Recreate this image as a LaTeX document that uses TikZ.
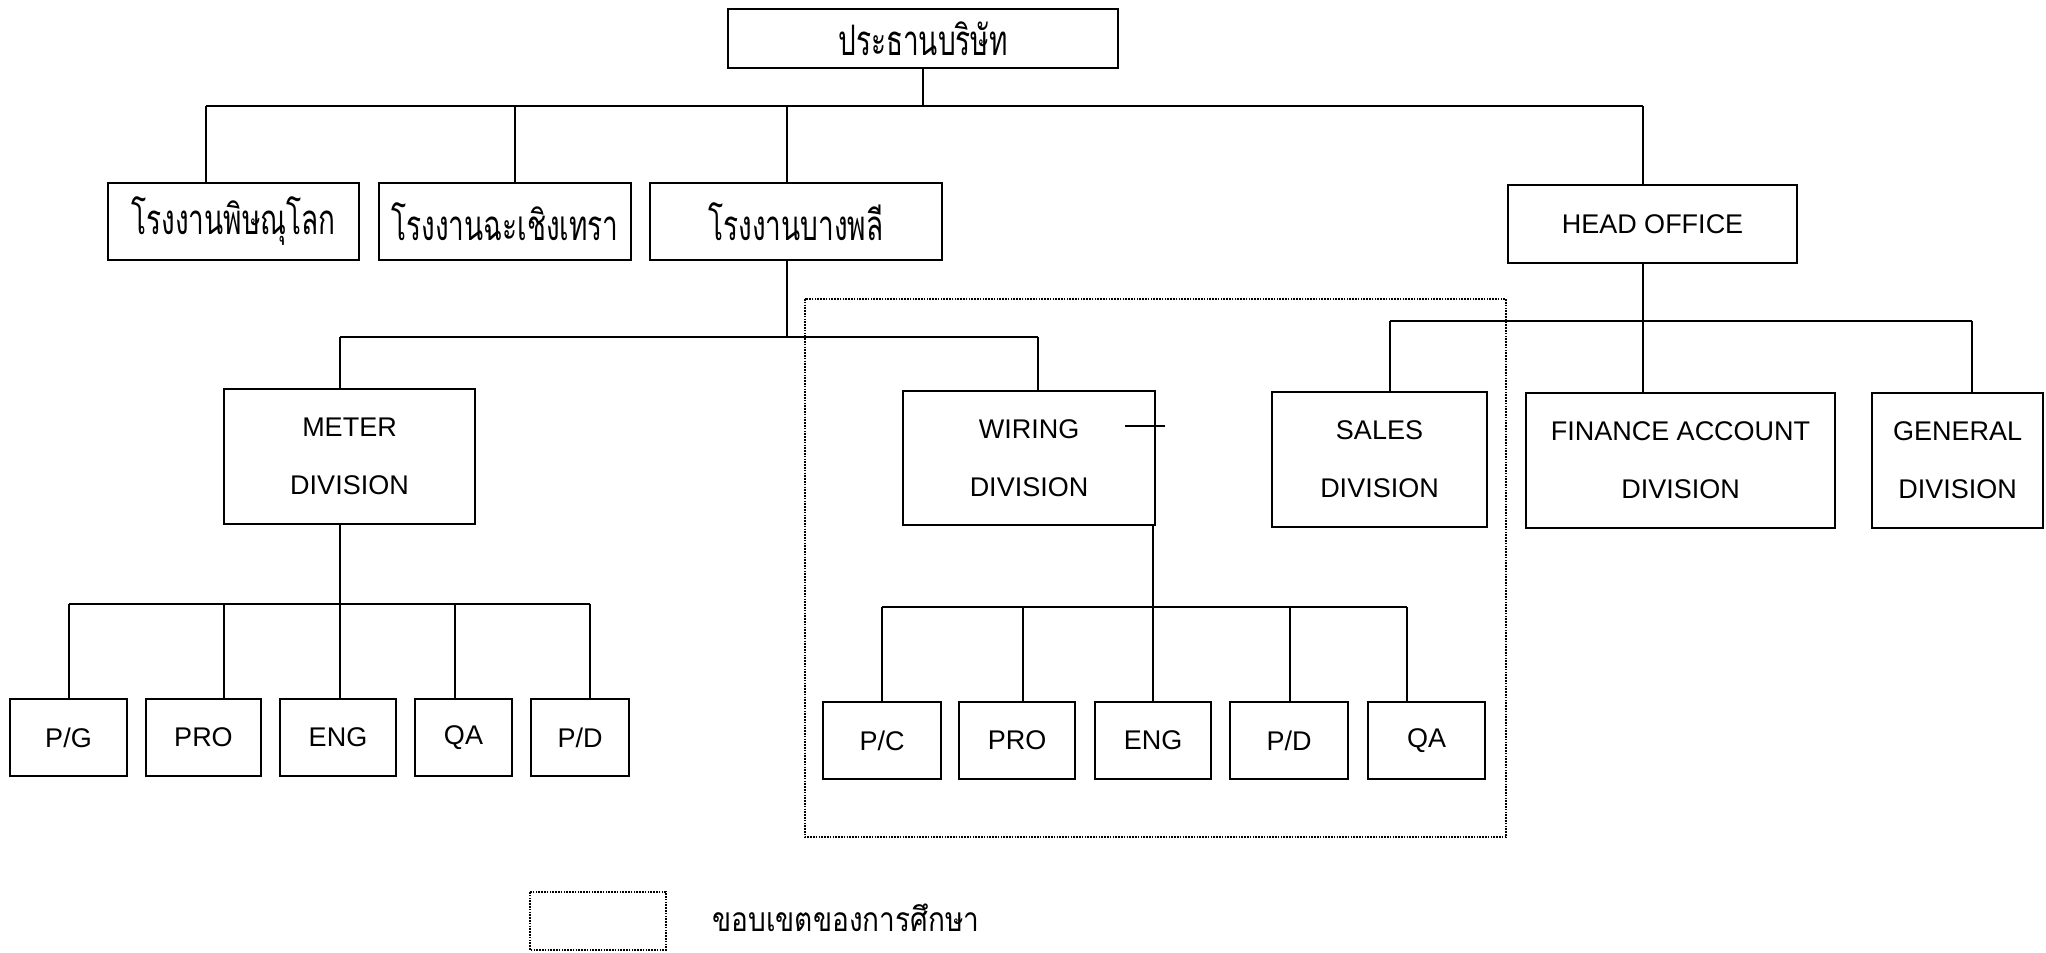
\documentclass[tikz,border=0pt]{standalone}
\usepackage{graphicx}
\usepackage{fontspec}
\setmainfont{Liberation Sans}
\newfontfamily\thaifont[Script=Thai]{Loma}
\newcommand{\thbox}[1]{\scalebox{1}[1.5]{#1}}
\newcommand{\thleg}[1]{\scalebox{1}[1.2]{#1}}
\begin{document}
\begin{tikzpicture}[x=0.5pt,y=-0.5pt,
  box/.style={draw, line width=1.3pt, inner sep=0pt, anchor=center,
    font=\fontsize{13.5}{29}\selectfont, align=center},
  tbox/.style={box, font=\thaifont\fontsize{14}{18}\selectfont},
  conn/.style={line width=0.9pt},
  scope/.style={line width=1pt, dash pattern=on 0.8pt off 0.6pt}]
\useasboundingbox (0,0) rectangle (2046,953);

% level 1
\node[tbox, minimum width=195pt, minimum height=29.5pt] (top) at (923,38.5) {\thbox{ประธานบริษัท}};
% level 2
\node[tbox, minimum width=125.5pt, minimum height=38.5pt] (b1) at (233.5,221.5) {\thbox{โรงงานพิษณุโลก}};
\node[tbox, minimum width=126pt, minimum height=38.5pt] (b2) at (505,221.5) {\thbox{โรงงานฉะเชิงเทรา}};
\node[tbox, minimum width=146pt, minimum height=38.5pt] (b3) at (796,221.5) {\thbox{โรงงานบางพลี}};
\node[box, minimum width=144.5pt, minimum height=39pt] (ho) at (1652.5,224) {HEAD OFFICE};
% level 3
\node[box, minimum width=125.5pt, minimum height=67.5pt] (meter) at (349.5,456.5) {METER\\DIVISION};
\node[box, minimum width=126pt, minimum height=67pt] (wiring) at (1029,458) {WIRING\\DIVISION};
\node[box, minimum width=107.5pt, minimum height=67.5pt] (sales) at (1379.5,459.5) {SALES\\DIVISION};
\node[box, minimum width=154.5pt, minimum height=67.5pt] (fin) at (1680.5,460.5) {FINANCE ACCOUNT\\DIVISION};
\node[box, minimum width=85.5pt, minimum height=67.5pt] (gen) at (1957.5,460.5) {GENERAL\\DIVISION};
% level 4 meter
\node[box, minimum width=58.5pt, minimum height=38.5pt] (mpg) at (68.5,737.5) {P/G};
\node[box, minimum width=57.5pt, minimum height=38.5pt] (mpro) at (203.5,737.5) {PRO};
\node[box, minimum width=58pt, minimum height=38.5pt] (meng) at (338,737.5) {ENG};
\node[box, minimum width=48.5pt, minimum height=38.5pt] (mqa) at (463.5,737.5) {QA};
\node[box, minimum width=49pt, minimum height=38.5pt] (mpd) at (580,737.5) {P/D};
% level 4 wiring
\node[box, minimum width=59pt, minimum height=38.5pt] (wpc) at (882,740.5) {P/C};
\node[box, minimum width=58pt, minimum height=38.5pt] (wpro) at (1017,740.5) {PRO};
\node[box, minimum width=58pt, minimum height=38.5pt] (weng) at (1153,740.5) {ENG};
\node[box, minimum width=59pt, minimum height=38.5pt] (wpd) at (1289,740.5) {P/D};
\node[box, minimum width=58.5pt, minimum height=38.5pt] (wqa) at (1426.5,740.5) {QA};

% connectors: president
\coordinate (a0) at (923,106);
\coordinate (a1) at (206,106);
\coordinate (a2) at (515,106);
\coordinate (a3) at (787,106);
\coordinate (a4) at (1643,106);
\draw[conn] (top.south) -- (a0);
\draw[conn] (a1) -- (a4);
\draw[conn] (a1) -- (a1 |- b1.north);
\draw[conn] (a2) -- (a2 |- b2.north);
\draw[conn] (a3) -- (a3 |- b3.north);
\draw[conn] (a4) -- (a4 |- ho.north);

% Bang Phli
\coordinate (c0) at (787,337);
\coordinate (c1) at (340,337);
\coordinate (c2) at (1038,337);
\draw[conn] (c0 |- b3.south) -- (c0);
\draw[conn] (c1) -- (c2);
\draw[conn] (c1) -- (c1 |- meter.north);
\draw[conn] (c2) -- (c2 |- wiring.north);

% Head office
\coordinate (e0) at (1643,321);
\coordinate (e1) at (1390,321);
\coordinate (e2) at (1972,321);
\draw[conn] (e0 |- ho.south) -- (e0 |- fin.north);
\draw[conn] (e1) -- (e2);
\draw[conn] (e1) -- (e1 |- sales.north);
\draw[conn] (e2) -- (e2 |- gen.north);

% Meter
\coordinate (m0) at (340,604);
\coordinate (m1) at (69,604);
\coordinate (m2) at (224,604);
\coordinate (m4) at (455,604);
\coordinate (m5) at (590,604);
\draw[conn] (m0 |- meter.south) -- (m0);
\draw[conn] (m1) -- (m5);
\draw[conn] (m1) -- (m1 |- mpg.north);
\draw[conn] (m2) -- (m2 |- mpro.north);
\draw[conn] (m0) -- (m0 |- meng.north);
\draw[conn] (m4) -- (m4 |- mqa.north);
\draw[conn] (m5) -- (m5 |- mpd.north);

% Wiring
\coordinate (w0) at (1153,607);
\coordinate (w1) at (882,607);
\coordinate (w2) at (1023,607);
\coordinate (w4) at (1290,607);
\coordinate (w5) at (1407,607);
\draw[conn] (w0 |- wiring.south) -- (w0);
\draw[conn] (w1) -- (w5);
\draw[conn] (w1) -- (w1 |- wpc.north);
\draw[conn] (w2) -- (w2 |- wpro.north);
\draw[conn] (w0) -- (w0 |- weng.north);
\draw[conn] (w4) -- (w4 |- wpd.north);
\draw[conn] (w5) -- (w5 |- wqa.north);

% stray mark near WIRING
\draw[line width=0.8pt] (1125,426) -- (1165,426);

% scope of study
\draw[scope] (805,299) rectangle (1506,837);
% legend
\draw[scope] (530,892) rectangle (666,950);
\node[font=\thaifont\fontsize{14}{18}\selectfont, anchor=west, inner sep=0pt] (leg) at (712,918) {\thleg{ขอบเขตของการศึกษา}};
\end{tikzpicture}
\end{document}
